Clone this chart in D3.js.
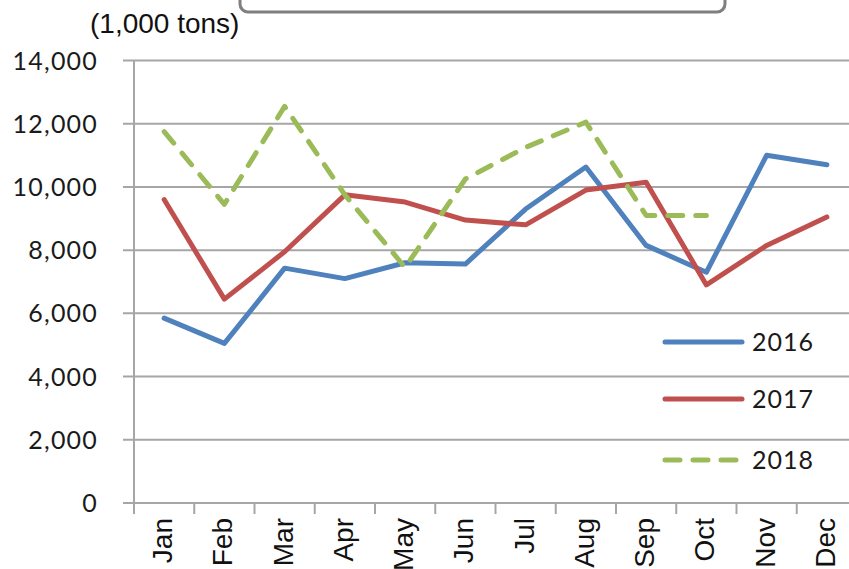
<!DOCTYPE html>
<html>
<head>
<meta charset="utf-8">
<script src="https://cdn.jsdelivr.net/npm/d3@7"></script>
<style>
  body { margin: 0; background: #fff; }
  svg { display: block; }
</style>
</head>
<body>
<svg id="chart" width="849" height="569"></svg>
<script>
var months = ["Jan", "Feb", "Mar", "Apr", "May", "Jun", "Jul", "Aug", "Sep", "Oct", "Nov", "Dec"];
var yTicks = [0, 2000, 4000, 6000, 8000, 10000, 12000, 14000];
var years = ["2016", "2017", "2018"];
var v2016 = [5850, 5050, 7430, 7100, 7600, 7560, 9300, 10630, 8150, 7300, 11000, 10700];
var v2017 = [9600, 6450, 7950, 9750, 9520, 8950, 8800, 9900, 10150, 6900, 8150, 9050];
var v2018 = [11750, 9450, 12550, 9750, 7450, 10250, 11250, 12050, 9100, 9100];

var colors = {"2016": "#4F81BD", "2017": "#C0504D", "2018": "#9BBB59"};
var series = [
    {name: "2016", values: v2016, dash: null},
    {name: "2017", values: v2017, dash: null},
    {name: "2018", values: v2018, dash: "15,13"}
];

var svg = d3.select("#chart");

var x = d3.scaleBand().domain(months).range([134, 134 + 12 * 60.25]);
var y = d3.scaleLinear().domain([0, 14000]).range([503, 60.5]);

// top box, mostly cut off
svg.append("rect")
    .attr("x", 240).attr("y", -30)
    .attr("width", 485).attr("height", 42)
    .attr("rx", 8)
    .attr("fill", "#fff")
    .attr("stroke", "#7f7f7f")
    .attr("stroke-width", 3);

svg.append("text")
    .attr("x", 90).attr("y", 33)
    .attr("font-family", "Liberation Sans, Arial, sans-serif")
    .attr("font-size", 28)
    .attr("fill", "#111")
    .text("(1,000 tons)");

// gridlines
svg.append("g")
    .selectAll("line")
    .data(yTicks)
    .join("line")
    .attr("x1", 123).attr("x2", 849)
    .attr("y1", d => y(d)).attr("y2", d => y(d))
    .attr("stroke", "#a6a6a6")
    .attr("stroke-width", 2);

// y axis line
svg.append("line")
    .attr("x1", 134).attr("x2", 134)
    .attr("y1", y(14000)).attr("y2", 514)
    .attr("stroke", "#a6a6a6")
    .attr("stroke-width", 2);

// x tick marks at band edges
svg.append("g")
    .selectAll("line")
    .data(months.slice(1))
    .join("line")
    .attr("x1", d => x(d)).attr("x2", d => x(d))
    .attr("y1", 503).attr("y2", 514)
    .attr("stroke", "#a6a6a6")
    .attr("stroke-width", 2);

// y tick labels
svg.append("g")
    .selectAll("text")
    .data(yTicks)
    .join("text")
    .attr("x", 98)
    .attr("y", d => y(d))
    .attr("dy", "0.36em")
    .attr("text-anchor", "end")
    .attr("font-family", "Lato, sans-serif")
    .attr("font-size", 25)
    .attr("letter-spacing", 1.2)
    .attr("fill", "#1a1a1a")
    .text(d => d3.format(",")(d));

// x labels, rotated
svg.append("g")
    .selectAll("text")
    .data(months)
    .join("text")
    .attr("transform", d => "translate(" + (x(d) + x.bandwidth() / 2 - 2) + ",518) rotate(-90)")
    .attr("dy", "0.36em")
    .attr("text-anchor", "end")
    .attr("font-family", "Liberation Sans, Arial, sans-serif")
    .attr("font-size", 28)
    .attr("fill", "#111")
    .text(d => d);

var line = d3.line()
    .x((d, i) => x(months[i]) + x.bandwidth() / 2)
    .y(d => y(d));

svg.append("g")
    .selectAll("path")
    .data(series)
    .join("path")
    .attr("d", d => line(d.values))
    .attr("fill", "none")
    .attr("stroke", d => colors[d.name])
    .attr("stroke-width", 5)
    .attr("stroke-linejoin", "round")
    .attr("stroke-linecap", "round")
    .attr("stroke-dasharray", d => d.dash);

// legend
var legendY = [342, 399, 460];
var legend = svg.append("g")
    .selectAll("g")
    .data(series)
    .join("g")
    .attr("transform", (d, i) => "translate(0," + legendY[i] + ")");

legend.append("line")
    .attr("x1", 665).attr("x2", 742)
    .attr("stroke", d => colors[d.name])
    .attr("stroke-width", 5)
    .attr("stroke-linecap", "round")
    .attr("stroke-dasharray", d => d.dash);

legend.append("text")
    .attr("x", 752)
    .attr("dy", "0.36em")
    .attr("font-family", "Lato, sans-serif")
    .attr("font-size", 25)
    .attr("letter-spacing", 1)
    .attr("fill", "#1a1a1a")
    .text(d => d.name);
</script>
</body>
</html>
